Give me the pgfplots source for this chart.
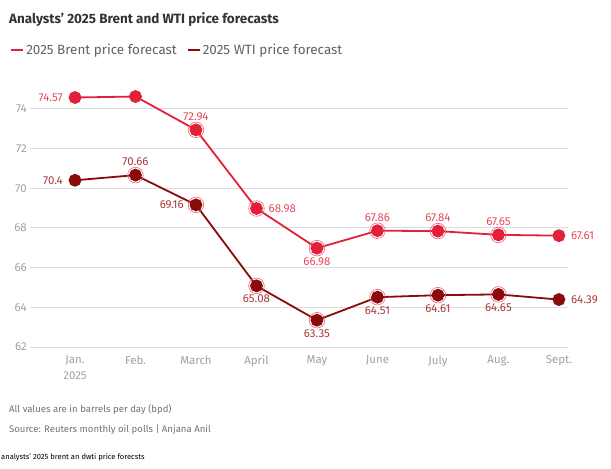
\documentclass[border=0pt]{standalone}
\usepackage{pgfplots}
\pgfplotsset{compat=1.18}
\usepackage{pgfplotstable}
\usepackage{fontspec}
\setmainfont{Fira Sans}

\definecolor{brent}{HTML}{E3203A}
\definecolor{wti}{HTML}{8B0B0B}
\definecolor{brentlab}{HTML}{E8485C}
\definecolor{wtilab}{HTML}{A83A3A}
\definecolor{ticktext}{HTML}{A0A0A0}
\definecolor{gridc}{HTML}{DEDEDE}

% x = month index (0 = Jan. ... 8 = Sept.)
\pgfplotstableread{
x y
0 74.57
1 74.62
2 72.94
3 68.98
4 66.98
5 67.86
6 67.84
7 67.65
8 67.61
}\brentdata

\pgfplotstableread{
x y
0 70.40
1 70.66
2 69.16
3 65.08
4 63.35
5 64.51
6 64.61
7 64.65
8 64.39
}\wtidata

\pgfplotsset{
  series/.style={forget plot, #1, line width=1.8bp, mark=*, mark size=5.5bp, mark options={fill=#1, draw=#1}},
  ring/.style={forget plot, only marks, mark=o, mark size=7.8bp, mark options={draw=brent!70, line width=0.6bp}},
  lab/.style 2 args={forget plot, only marks, mark=none,
    nodes near coords, point meta=explicit symbolic,
    every node near coord/.append style={anchor=#1, text=#2, font=\fontsize{11.5}{13}\selectfont,
      inner xsep=12bp, inner ysep=9bp}},
}

\begin{document}
\begin{tikzpicture}
\useasboundingbox (0,0) rectangle (611bp,-469bp);

\node[anchor=base west, inner sep=0pt, font=\bfseries\fontsize{13.5}{16}\selectfont, text=black!80] at (9bp,-23bp) {Analysts' 2025 Brent and WTI price forecasts};

\begin{axis}[
  at={(30bp,-347bp)}, anchor=south west,
  scale only axis, width=538bp, height=262bp,
  xmin=-0.744, xmax=8.15, ymin=62, ymax=75.2,
  clip=false,
  axis line style={draw=none},
  major tick length=0,
  xtick={0,...,8},
  xticklabels={{Jan.\\2025},Feb.,March,April,May,June,July,Aug.,Sept.},
  xticklabel style={align=center, font=\fontsize{11.5}{16}\selectfont, text=ticktext, yshift=-5bp},
  ytick={62,64,...,74},
  yticklabel style={font=\fontsize{11.5}{13}\selectfont, text=ticktext, inner sep=0pt, anchor=east, xshift=-3bp},
  /pgf/number format/assume math mode=true,
  ymajorgrids,
  grid style={gridc, line width=1bp},
  legend columns=2,
  legend cell align=left,
  legend style={at={(-0.037,1.134)}, anchor=west, draw=none, fill=none, inner sep=0pt,
    font=\fontsize{13.5}{16}\selectfont, text=black!62,
    /tikz/every even column/.append style={column sep=8bp}},
  legend image code/.code={\draw[#1, line width=2bp] (0bp,0bp) -- (12bp,0bp);},
]

\addlegendimage{brent}
\addlegendentry{2025 Brent price forecast}
\addlegendimage{wti}
\addlegendentry{2025 WTI price forecast}

\addplot[series=brent] table[x=x, y=y] {\brentdata};
\addplot[series=wti] table[x=x, y=y] {\wtidata};

% highlight rings
\addplot[ring] coordinates {(2,72.94) (3,68.98) (4,66.98) (5,67.86) (6,67.84) (7,67.65)};
\addplot[ring] coordinates {(1,70.66) (2,69.16) (3,65.08) (4,63.35) (5,64.51) (6,64.61) (7,64.65)};

% value labels, grouped by side
\addplot[lab={east}{brentlab}]  coordinates {(0,74.57)[74.57]};
\addplot[lab={south}{brentlab}] coordinates {(2,72.94)[72.94] (5,67.86)[67.86] (6,67.84)[67.84] (7,67.65)[67.65]};
\addplot[lab={west}{brentlab}]  coordinates {(3,68.98)[68.98] (8,67.61)[67.61]};
\addplot[lab={north}{brentlab}] coordinates {(4,66.98)[66.98]};

\addplot[lab={east}{wtilab}]  coordinates {(0,70.40)[70.4] (2,69.16)[69.16]};
\addplot[lab={south}{wtilab}] coordinates {(1,70.66)[70.66]};
\addplot[lab={north}{wtilab}] coordinates {(3,65.08)[65.08] (4,63.35)[63.35] (5,64.51)[64.51] (6,64.61)[64.61] (7,64.65)[64.65]};
\addplot[lab={west}{wtilab}]  coordinates {(8,64.39)[64.39]};
\end{axis}

\node[anchor=base west, inner sep=0pt, font=\fontsize{9.6}{12}\selectfont, text=black!55] at (9bp,-412bp) {All values are in barrels per day (bpd)};
\node[anchor=base west, inner sep=0pt, font=\fontsize{9.6}{12}\selectfont, text=black!55] at (9bp,-432bp) {Source: Reuters monthly oil polls | Anjana Anil};
\node[anchor=base west, inner sep=0pt, font=\fontsize{7.6}{10}\selectfont, text=black] at (1bp,-459bp) {analysts' 2025 brent an dwti price forecsts};
\end{tikzpicture}
\end{document}
